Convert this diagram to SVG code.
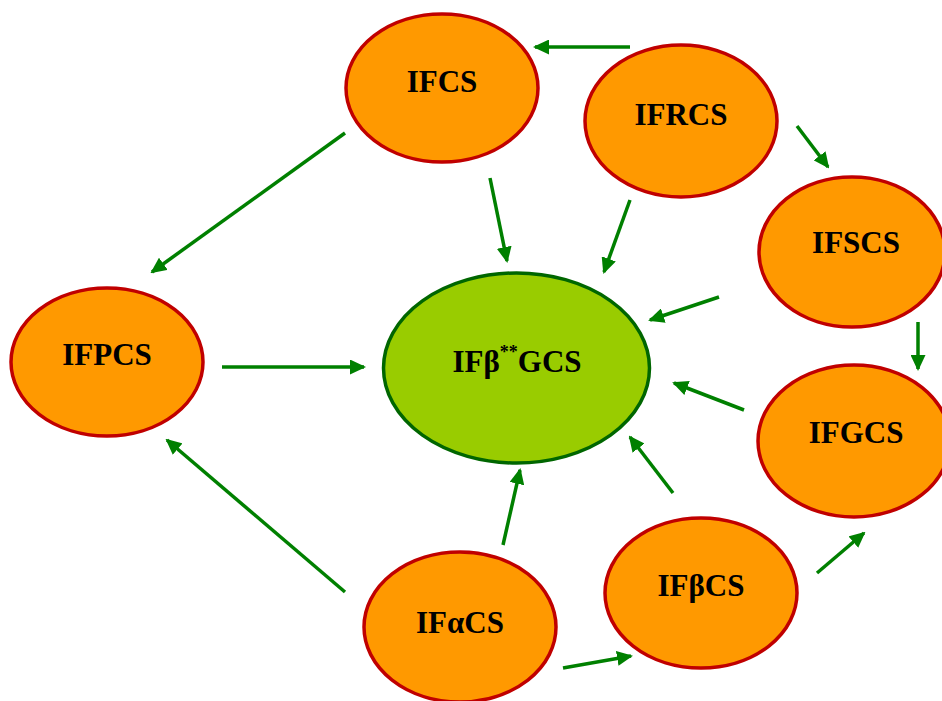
<svg xmlns="http://www.w3.org/2000/svg" width="942" height="701" viewBox="0 0 942 701">
<defs>
<marker id="ah" markerWidth="16" markerHeight="15" refX="14" refY="7.5" orient="auto" markerUnits="userSpaceOnUse">
<path d="M0,0 L16,7.5 L0,15 z" fill="#008000"/>
</marker>
<style>
.n ellipse{fill:#FF9900;stroke:#C00000;stroke-width:3.5}
.c ellipse{fill:#99CC00;stroke:#006600;stroke-width:3.5}
text{font-family:"Liberation Serif","Times New Roman",serif;font-weight:bold;font-size:31px;fill:#000;text-anchor:middle}
#edges line{stroke:#008000;stroke-width:3.5;marker-end:url(#ah)}
</style>
</defs>
<rect width="942" height="701" fill="#fff"/>
<g id="edges">
<line x1="630" y1="47" x2="535" y2="47"/>
<line x1="345" y1="133" x2="152" y2="272"/>
<line x1="490" y1="178" x2="507" y2="261"/>
<line x1="630" y1="200" x2="604" y2="272"/>
<line x1="797" y1="126" x2="828" y2="167"/>
<line x1="918" y1="322" x2="918" y2="369"/>
<line x1="719" y1="297" x2="650" y2="320"/>
<line x1="744" y1="410" x2="674" y2="383"/>
<line x1="222" y1="367" x2="364" y2="367"/>
<line x1="345" y1="592" x2="167" y2="440"/>
<line x1="503" y1="545" x2="520" y2="470"/>
<line x1="673" y1="493" x2="630" y2="437"/>
<line x1="563" y1="668" x2="631" y2="656"/>
<line x1="817" y1="573" x2="864" y2="533"/>
</g>
<g id="IFCS" class="n"><ellipse cx="442" cy="88" rx="96" ry="74"/><text x="442" y="92">IFCS</text></g>
<g id="IFRCS" class="n"><ellipse cx="681" cy="121" rx="96" ry="76"/><text x="681" y="125">IFRCS</text></g>
<g id="IFSCS" class="n"><ellipse cx="852" cy="252" rx="93" ry="75"/><text x="856" y="253">IFSCS</text></g>
<g id="IFGCS" class="n"><ellipse cx="854" cy="441" rx="96" ry="76"/><text x="856" y="443">IFGCS</text></g>
<g id="IFbCS" class="n"><ellipse cx="701" cy="593" rx="96" ry="75"/><text x="701" y="596">IFβCS</text></g>
<g id="IFaCS" class="n"><ellipse cx="460" cy="627" rx="96" ry="75"/><text x="460" y="633">IFαCS</text></g>
<g id="IFPCS" class="n"><ellipse cx="107" cy="362" rx="96" ry="74"/><text x="107" y="365">IFPCS</text></g>
<g id="IFbGCS" class="c"><ellipse cx="516.5" cy="368" rx="133" ry="95"/><text x="517" y="372">IFβ<tspan font-size="18" dy="-14">**</tspan><tspan dy="14">GCS</tspan></text></g>
</svg>
